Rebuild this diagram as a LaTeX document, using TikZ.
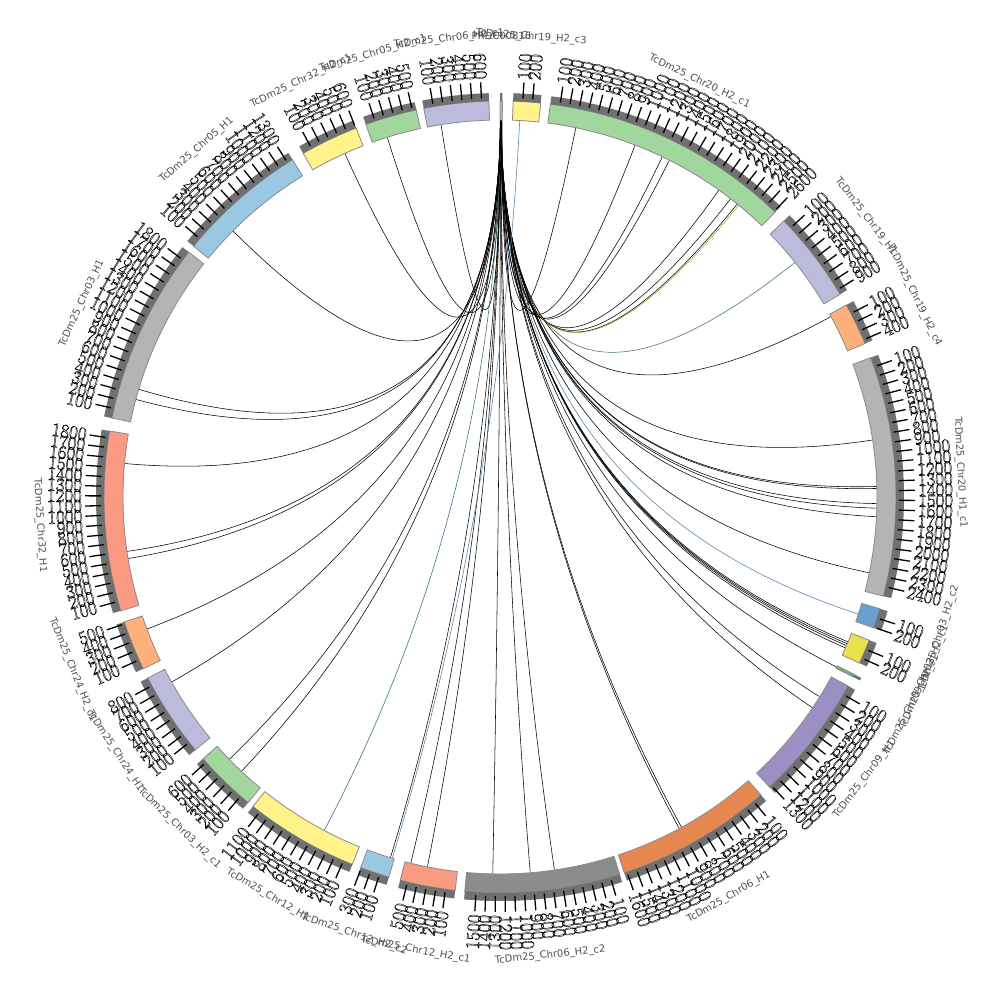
\documentclass[tikz,border=0pt]{standalone}
\usepackage{fontspec}
\newfontfamily\dejavu{DejaVu Sans}
\definecolor{cA}{HTML}{A9BDD3}
\definecolor{cyel}{HTML}{FFF38A}
\definecolor{cyel2}{HTML}{EADF4D}
\definecolor{cgrn}{HTML}{A1D79F}
\definecolor{cgrn2}{HTML}{6DB37E}
\definecolor{clav}{HTML}{BDBBDB}
\definecolor{cora}{HTML}{FDB07A}
\definecolor{cgry}{HTML}{B4B4B4}
\definecolor{cdgry}{HTML}{8C8C8C}
\definecolor{cblu}{HTML}{6A9FD0}
\definecolor{clblu}{HTML}{9AC8E2}
\definecolor{cpur}{HTML}{9B8FC4}
\definecolor{cdora}{HTML}{E5874F}
\definecolor{csal}{HTML}{FA9A82}
\definecolor{stripc}{HTML}{707070}
\definecolor{segline}{HTML}{8A8A8A}
\definecolor{labgray}{HTML}{505050}
\definecolor{linkyel}{HTML}{B8A020}
\definecolor{linkgrn}{HTML}{3F7A4A}
\definecolor{linkblue}{HTML}{4F7FA8}
\definecolor{linkteal}{HTML}{2F6F6A}
\tikzset{
  segbox/.style={draw=segline, line width=0.8pt},
  tickline/.style={line width=1.3pt, black},
  ticklab/.style={inner sep=0pt, font=\fontsize{19}{19}\selectfont},
  seglab/.style={inner sep=0pt, text=labgray, font=\dejavu\fontsize{10}{10}\selectfont},
  link/.style={line width=0.55pt, black},
}
\newcommand\outl{\special{pdf:literal direct 1 Tr 0.42 w}}
\newcommand\segm[5]{%
  \pgfmathsetmacro\angA{90-#1}\pgfmathsetmacro\angB{90-#2}%
  \filldraw[segbox, fill=#3] (\angA:377) arc[start angle=\angA, end angle=\angB, radius=377] -- (\angB:396) arc[start angle=\angB, end angle=\angA, radius=396] -- cycle;
  \fill[stripc] (\angA:396) arc[start angle=\angA, end angle=\angB, radius=396] -- (\angB:404) arc[start angle=\angB, end angle=\angA, radius=404] -- cycle;
  \ifnum#5>0
  \foreach \k in {1,...,#5}{
    \pgfmathsetmacro\ang{#1+\k*1.405}
    \pgfmathtruncatemacro\lab{\k*100}
    \pgfmathtruncatemacro\tflip{\ang<180}
    \draw[tickline] ({90-\ang}:399) -- ({90-\ang}:415);
    \ifnum\tflip=1
      \node[ticklab, anchor=west, rotate={90-\ang}] at ({90-\ang}:418) {\outl\lab};
    \else
      \node[ticklab, anchor=east, rotate={270-\ang}] at ({90-\ang}:418) {\outl\lab};
    \fi
  }
  \fi
  \pgfmathsetmacro\mang{(#1+#2)/2}
  \pgfmathtruncatemacro\nflip{and(\mang>90,\mang<270)}
  \ifnum\nflip=1
    \node[seglab, rotate={180-\mang}] at ({90-\mang}:461) {#4};
  \else
    \node[seglab, rotate={-\mang}] at ({90-\mang}:461) {#4};
  \fi
}
\newcommand\lnk[3][]{\draw[link,#1] ({90-#2}:377) .. controls ({90-#2}:125.7) and ({90-#3}:125.7) .. ({90-#3}:377);}
\begin{document}
\begin{tikzpicture}[x=1pt,y=1pt]
\useasboundingbox[fill=white] (-500,-503) rectangle (500,497);
% links
\lnk{0.05}{351.0}
\lnk{0.06}{342.6}
\lnk{0.07}{335.7}
\lnk{0.30}{11.6}
\lnk{0.28}{21.0}
\lnk{0.27}{25.5}
\lnk{0.26}{26.7}
\lnk{0.25}{35.5}
\lnk{0.24}{37.7}
\lnk{0.23}{39.0}
\lnk[draw=linkyel]{0.22}{39.3}
\lnk[draw=linkgrn]{0.21}{51.5}
\lnk{0.20}{61.4}
\lnk{0.20}{81.3}
\lnk{0.19}{88.4}
\lnk{0.19}{88.7}
\lnk{0.18}{91.0}
\lnk{0.18}{91.7}
\lnk{0.18}{93.0}
\lnk{0.17}{101.6}
\lnk[draw=linkblue]{0.17}{108.1}
\lnk{0.16}{112.6}
\lnk{0.16}{112.9}
\lnk{0.15}{113.2}
\lnk{0.15}{113.6}
\lnk{0.14}{116.8}
\lnk{0.14}{122.0}
\lnk{0.13}{124.0}
\lnk{0.13}{151.2}
\lnk{0.12}{151.6}
\lnk{0.12}{171.7}
\lnk{0.11}{175.4}
\lnk{0.11}{181.1}
\lnk{0.10}{191.1}
\lnk{0.10}{193.7}
\lnk[draw=linkblue]{3.0}{196.6}
\lnk{0.09}{196.9}
\lnk[draw=linkteal]{0.09}{207.8}
\lnk{0.08}{223.3}
\lnk{0.08}{225.9}
\lnk{0.07}{240.6}
\lnk{0.07}{249.5}
\lnk{0.06}{260.6}
\lnk{0.06}{261.7}
\lnk{0.05}{275.1}
\lnk{0.05}{285.0}
\lnk{0.05}{286.6}
\lnk{0.04}{314.9}
% segments
\segm{0.0}{0.35}{cA}{PRDC00816}{0}
\segm{1.9}{5.9}{cyel}{TcDm25\_Chr19\_H2\_c3}{2}
\segm{7.3}{44.0}{cgrn}{TcDm25\_Chr20\_H2\_c1}{26}
\segm{45.8}{59.2}{clav}{TcDm25\_Chr19\_H1}{9}
\segm{61.0}{67.2}{cora}{TcDm25\_Chr19\_H2\_c4}{4}
\segm{69.4}{104.5}{cgry}{TcDm25\_Chr20\_H1\_c1}{24}
\segm{106.4}{109.3}{cblu}{TcDm25\_Chr03\_H2\_c2}{2}
\segm{111.2}{114.8}{cyel2}{TcDm25\_Chr03\_H2\_c1}{2}
\segm{116.6}{117.0}{cgrn2}{TcDm25\_Chr09\_H2\_c1}{0}
\segm{118.5}{137.1}{cpur}{TcDm25\_Chr09\_H1}{13}
\segm{138.8}{161.7}{cdora}{TcDm25\_Chr06\_H1}{16}
\segm{162.4}{185.1}{cdgry}{TcDm25\_Chr06\_H2\_c2}{15}
\segm{186.5}{194.6}{csal}{TcDm25\_Chr12\_H2\_c1}{5}
\segm{196.3}{200.6}{clblu}{TcDm25\_Chr12\_H2\_c2}{3}
\segm{201.9}{218.6}{cyel}{TcDm25\_Chr12\_H1}{11}
\segm{219.5}{228.6}{cgrn}{TcDm25\_Chr03\_H2\_c1}{6}
\segm{230.3}{242.8}{clav}{TcDm25\_Chr24\_H1}{8}
\segm{244.3}{251.6}{cora}{TcDm25\_Chr24\_H2\_c1}{5}
\segm{253.3}{279.6}{csal}{TcDm25\_Chr32\_H1}{18}
\segm{281.5}{308.2}{cgry}{TcDm25\_Chr03\_H1}{18}
\segm{309.3}{328.4}{clblu}{TcDm25\_Chr05\_H1}{13}
\segm{330.2}{338.7}{cyel}{TcDm25\_Chr32\_H2\_c1}{6}
\segm{340.2}{347.8}{cgrn}{TcDm25\_Chr05\_H2\_c1}{5}
\segm{348.9}{358.4}{clav}{TcDm25\_Chr06\_H2\_c1}{6}
\end{tikzpicture}
\end{document}
